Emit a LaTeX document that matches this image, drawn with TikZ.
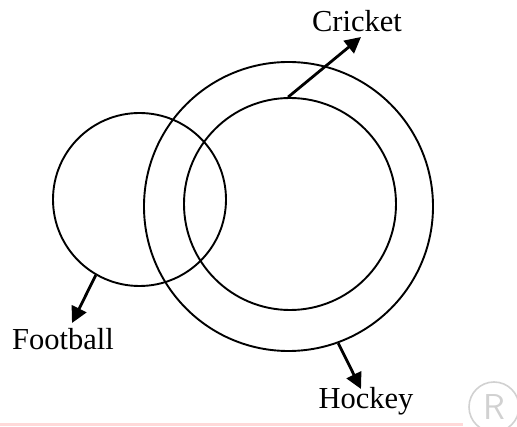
\documentclass[tikz,border=0pt]{standalone}
\usepackage{fontspec}
\setmainfont{Liberation Serif}
\usetikzlibrary{arrows.meta}

\tikzset{
    set/.style={circle, draw, line width=1.9pt, inner sep=0pt},
    pointer/.style={line width=2.8pt, -{Triangle[length=16pt, width=16pt]}},
    tag/.style={font=\fontsize{30.5}{30}\selectfont, inner sep=0pt}
}

\begin{document}
\begin{tikzpicture}[x=1pt, y=-1pt]
    \useasboundingbox (0,0) rectangle (517,427);

    % Sets
    \node[set, minimum size=173pt] (football) at (139.5,199.5) {};
    \node[set, minimum size=289pt] (hockey) at (288.5,206.5) {};
    \node[set, minimum size=212pt] (cricket) at (290,204) {};

    % Labels
    \node[tag] (crickettext) at (357,21) {Cricket};
    \node[tag] (footballtext) at (63,339) {Football};
    \node[tag] (hockeytext) at (366,401) {Hockey};

    % Pointers
    \coordinate (crickettip) at (361,37);
    \coordinate (footballtip) at (72,323);
    \coordinate (hockeytip) at (361,389);
    \draw[pointer] (cricket.91) -- (crickettip);
    \draw[pointer] (football.240) -- (footballtip);
    \draw[pointer] (hockey.-70) -- (hockeytip);

    % Page edge and mark
    \draw[red!15, line width=2.5pt] (0,424.5) -- (463,424.5);
    \node[circle, draw=black!18, line width=1.6pt, minimum size=50pt, inner sep=0pt,
          font=\sffamily\fontsize{36}{36}\selectfont, text=black!18] (mark) at (494,407) {R};
\end{tikzpicture}
\end{document}
